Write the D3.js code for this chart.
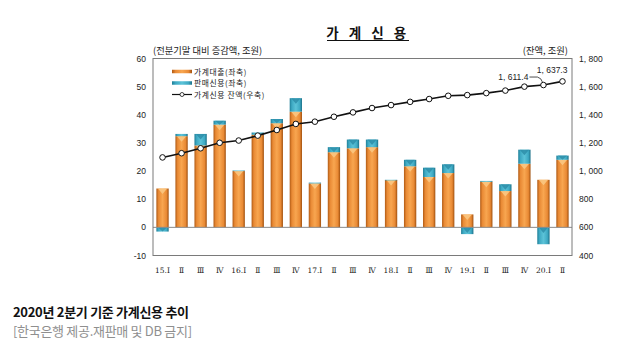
<!DOCTYPE html>
<html><head><meta charset="utf-8">
<script src="https://cdn.jsdelivr.net/npm/d3@7"></script>
<style>body{margin:0;background:#fff}svg{display:block}</style>
</head><body>
<script>
const categories = ["15.Ⅰ","Ⅱ","Ⅲ","Ⅳ","16.Ⅰ","Ⅱ","Ⅲ","Ⅳ","17.Ⅰ","Ⅱ","Ⅲ","Ⅳ","18.Ⅰ","Ⅱ","Ⅲ","Ⅳ","19.Ⅰ","Ⅱ","Ⅲ","Ⅳ","20.Ⅰ","Ⅱ"];
const loans =  [13.8,32.4,29.1,36.5,20.0,32.9,37.0,41.1,15.6,26.7,28.1,28.5,16.8,21.7,17.9,19.3,4.6,16.2,12.9,22.6,16.9,24.0];
const sales =  [-1.5,0.8,4.1,1.4,0.2,0.8,1.5,4.8,0.3,1.8,3.1,2.7,0.1,2.3,3.3,3.1,-2.4,0.3,2.4,5.0,-6.0,1.5];
const balance = [1097,1127,1162,1201,1217,1252,1292,1335,1351,1386,1417,1448,1469,1492,1512,1535,1540,1554,1572,1600,1611.4,1637.3];
const leftTicks = [-10,0,10,20,30,40,50,60];
const rightTicks = [400,600,800,1000,1200,1400,1600,1800];
const legendLabels = ["가계대출(좌축)","판매신용(좌축)","가계신용 잔액(우축)"];

const W=624,H=361;
const svg=d3.select("body").append("svg").attr("width",W).attr("height",H);
const L=153,R=572,T=58.5,B=255.5;
const x=d3.scaleBand().domain(categories.map((c,i)=>i)).range([L,R]).paddingInner(0.354).paddingOuter(0.177);
const y=d3.scaleLinear().domain([-10,60]).range([B,T]);
const yr=d3.scaleLinear().domain([400,1800]).range([B,T]);
const bw=x.bandwidth();

const defs=svg.append("defs");
function grad(id,stops){const g=defs.append("linearGradient").attr("id",id).attr("x1","0").attr("x2","1").attr("y1","0").attr("y2","0");
 stops.forEach(s=>g.append("stop").attr("offset",s[0]).attr("stop-color",s[1]));}
grad("og",[[0,"#b05a14"],[0.18,"#e98a35"],[0.5,"#f8a650"],[0.82,"#e98a35"],[1,"#a0500e"]]);
grad("cg",[[0,"#1f7f98"],[0.18,"#3ea9c3"],[0.5,"#5cc3d8"],[0.82,"#3ea9c3"],[1,"#1b7088"]]);

const font="'Noto Sans CJK KR','Noto Sans',sans-serif";
const numFont="'Liberation Sans',Arial,sans-serif";

// title
svg.append("text").attr("x",368).attr("y",38).attr("text-anchor","middle")
 .attr("font-family",font).attr("font-size",13.5).attr("font-weight",700).attr("letter-spacing",3.5)
 .attr("fill","#111").text("가 계 신 용");
svg.append("line").attr("x1",327).attr("x2",409).attr("y1",40.5).attr("y2",40.5).attr("stroke","#111").attr("stroke-width",1);

svg.append("text").attr("x",153).attr("y",54).attr("font-family",font).attr("font-size",9.3).attr("fill","#222").text("(전분기말 대비 증감액, 조원)");
svg.append("text").attr("x",568).attr("y",54).attr("text-anchor","end").attr("font-family",font).attr("font-size",9.3).attr("fill","#222").text("(잔액, 조원)");

// ticks
svg.append("g").selectAll("text").data(leftTicks).join("text")
 .attr("x",146).attr("y",d=>y(d)+3).attr("text-anchor","end").attr("font-family",numFont).attr("font-size",8.5).attr("fill","#222").text(d=>d);
svg.append("g").selectAll("text").data(rightTicks).join("text")
 .attr("x",579).attr("y",d=>yr(d)+3).attr("font-family",numFont).attr("font-size",8.5).attr("fill","#222").text(d=>d3.format(",")(d).replace(",",", "));

// bars
const g=svg.append("g");
categories.forEach((c,i)=>{
  const x0=x(i);
  const lt=y(loans[i]), z=y(0);
  g.append("rect").attr("x",x0).attr("y",lt).attr("width",bw).attr("height",z-lt).attr("fill","url(#og)");
  g.append("path").attr("d",`M${x0+1.5},${lt}L${x0+bw-1.5},${lt}L${x0+bw/2},${lt+Math.min(bw*0.45,z-lt)}Z`).attr("fill","#f9c682").attr("opacity",0.9);
  let s0,s1;
  if(sales[i]>=0){s0=loans[i];s1=loans[i]+sales[i];}else{s0=0;s1=sales[i];}
  const ya=y(Math.max(s0,s1)), yb=y(Math.min(s0,s1));
  g.append("rect").attr("x",x0).attr("y",ya).attr("width",bw).attr("height",Math.max(0.6,yb-ya)).attr("fill","url(#cg)");
  if(yb-ya>3){
    g.append("path").attr("d",`M${x0+1.5},${ya}L${x0+bw-1.5},${ya}L${x0+bw/2},${ya+Math.min(bw*0.45,yb-ya)}Z`).attr("fill","#2a8ba6").attr("opacity",0.8);
  }
});

// zero line and frame
svg.append("line").attr("x1",L).attr("x2",R).attr("y1",y(0)).attr("y2",y(0)).attr("stroke","#8a8a8a").attr("stroke-width",1);
svg.append("rect").attr("x",L).attr("y",T).attr("width",R-L).attr("height",B-T).attr("fill","none").attr("stroke","#7a7a7a").attr("stroke-width",1);

// line
const line=d3.line().x((d,i)=>x(i)+bw/2).y(d=>yr(d));
svg.append("path").datum(balance).attr("d",line).attr("fill","none").attr("stroke","#111").attr("stroke-width",1.6);
svg.append("g").selectAll("circle").data(balance).join("circle")
 .attr("cx",(d,i)=>x(i)+bw/2).attr("cy",d=>yr(d)).attr("r",2.8).attr("fill","#fff").attr("stroke","#111").attr("stroke-width",1);

// annotations
const n=balance.length;
const p1x=x(n-2)+bw/2, p1y=yr(balance[n-2]);
svg.append("text").attr("x",p1x-15).attr("y",p1y-5).attr("text-anchor","end").attr("font-family",numFont).attr("font-size",8.5).attr("fill","#222").text(d3.format(",.1f")(balance[n-2]).replace(",",", "));
svg.append("path").attr("d",`M${p1x-14},${p1y-8}L${p1x-6},${p1y-8}Q${p1x-2},${p1y-7} ${p1x-1},${p1y-3}`).attr("fill","none").attr("stroke","#222").attr("stroke-width",0.8);
const p2x=x(n-1)+bw/2, p2y=yr(balance[n-1]);
svg.append("text").attr("x",p2x+5).attr("y",p2y-8).attr("text-anchor","end").attr("font-family",numFont).attr("font-size",8.5).attr("fill","#222").text(d3.format(",.1f")(balance[n-1]).replace(",",", "));

// legend
const legY=[71.5,83,94.5];
svg.append("rect").attr("x",172).attr("y",legY[0]-1.75).attr("width",20).attr("height",3.5).attr("fill","url(#og)");
svg.append("rect").attr("x",172).attr("y",legY[1]-1.75).attr("width",20).attr("height",3.5).attr("fill","url(#cg)");
svg.append("line").attr("x1",172).attr("x2",192).attr("y1",legY[2]).attr("y2",legY[2]).attr("stroke","#111").attr("stroke-width",1.2);
svg.append("circle").attr("cx",182).attr("cy",legY[2]).attr("r",2).attr("fill","#fff").attr("stroke","#111").attr("stroke-width",0.8);
legendLabels.forEach((t,i)=>{
  svg.append("text").attr("x",194).attr("y",legY[i]+3).attr("font-family",font).attr("font-size",7.8).attr("letter-spacing",0.6).attr("fill","#222").text(t);
});

// x labels
svg.append("g").selectAll("text").data(categories).join("text")
 .attr("x",(d,i)=>x(i)+bw/2).attr("y",273).attr("text-anchor","middle").attr("font-family","'DejaVu Serif',serif").attr("font-size",7.5).attr("fill","#222").text(d=>d);

// caption
svg.append("text").attr("x",13).attr("y",317).attr("font-family",font).attr("font-size",13).attr("font-weight",700).attr("fill","#111").attr("letter-spacing",-0.3).text("2020년 2분기 기준 가계신용 추이");
svg.append("text").attr("x",13).attr("y",336).attr("font-family",font).attr("font-size",13).attr("fill","#8f8f8f").attr("letter-spacing",-0.3).text("[한국은행 제공.재판매 및 DB 금지]");
</script>
</body></html>
